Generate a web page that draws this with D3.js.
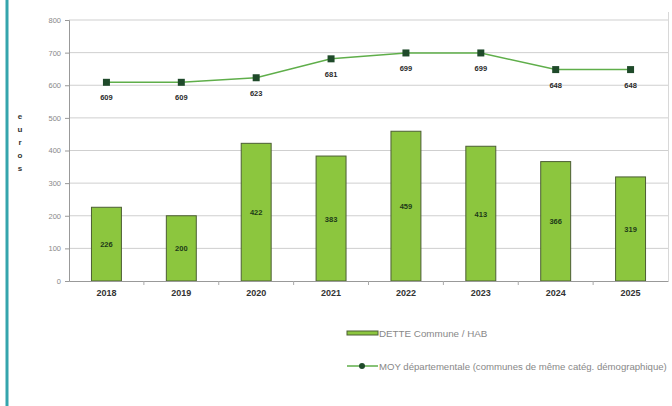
<!DOCTYPE html>
<html>
<head>
<meta charset="utf-8">
<script src="https://cdn.jsdelivr.net/npm/d3@7"></script>
<style>
  html, body { margin: 0; padding: 0; background: #fff; }
  svg { display: block; font-family: "Liberation Sans", Arial, sans-serif; }
</style>
</head>
<body>
<div id="chart"></div>
<script>
// chart data
var years = ['2018', '2019', '2020', '2021', '2022', '2023', '2024', '2025'];
var dette = [226, 200, 422, 383, 459, 413, 366, 319];
var moyenne = [609, 609, 623, 681, 699, 699, 648, 648];
var yTicks = [0, 100, 200, 300, 400, 500, 600, 700, 800];
var axisLetters = ['e', 'u', 'r', 'o', 's'];
var legendLabels = ['DETTE Commune / HAB', 'MOY départementale (communes de même catég. démographique)'];

var W = 672, H = 406;
var margin = { left: 69, right: 4, top: 20, bottom: 125 };

var svg = d3.select('#chart').append('svg')
  .attr('width', W).attr('height', H);

svg.append('rect').attr('width', W).attr('height', H).attr('fill', '#fff');

// teal frame line on the left
svg.append('line')
  .attr('x1', 7).attr('x2', 7).attr('y1', 0).attr('y2', H)
  .attr('stroke', '#35a5ad').attr('stroke-width', 3);

var x = d3.scaleBand()
  .domain(years)
  .range([margin.left, W - margin.right])
  .paddingInner(0.6).paddingOuter(0.3);

var y = d3.scaleLinear()
  .domain([0, 800])
  .range([H - margin.bottom, margin.top]);

// gridlines
svg.append('g')
  .selectAll('line')
  .data(yTicks.filter(function(d) { return d > 0; }))
  .enter().append('line')
  .attr('x1', margin.left).attr('x2', W - margin.right)
  .attr('y1', function(d) { return y(d); })
  .attr('y2', function(d) { return y(d); })
  .attr('stroke', '#cfcfcf').attr('stroke-width', 1);

// right border
svg.append('line')
  .attr('x1', W - margin.right + 0.5).attr('x2', W - margin.right + 0.5)
  .attr('y1', margin.top - 8).attr('y2', y(0))
  .attr('stroke', '#d8d8d8');

// y axis
var yAxis = svg.append('g')
  .attr('transform', 'translate(' + margin.left + ',0)')
  .call(d3.axisLeft(y).tickValues(yTicks).tickSize(4).tickPadding(4));
yAxis.select('.domain').attr('stroke', '#999');
yAxis.selectAll('.tick line').attr('stroke', '#999');
yAxis.selectAll('.tick text').attr('fill', '#888').style('font-size', '7.5px');

// bars
svg.append('g')
  .selectAll('rect')
  .data(dette)
  .enter().append('rect')
  .attr('x', function(d, i) { return x(years[i]); })
  .attr('y', function(d) { return y(d); })
  .attr('width', x.bandwidth())
  .attr('height', function(d) { return y(0) - y(d); })
  .attr('fill', '#8cc63e')
  .attr('stroke', '#4c5e34').attr('stroke-width', 1);

// bar labels
svg.append('g')
  .selectAll('text')
  .data(dette)
  .enter().append('text')
  .attr('x', function(d, i) { return x(years[i]) + x.bandwidth() / 2; })
  .attr('y', function(d) { return (y(d) + y(0)) / 2 + 3; })
  .attr('text-anchor', 'middle')
  .attr('fill', '#1d3a18')
  .style('font-size', '7.5px').style('font-weight', 'bold')
  .text(function(d) { return d; });

// x axis
var xAxis = svg.append('g')
  .attr('transform', 'translate(0,' + y(0) + ')')
  .call(d3.axisBottom(x).tickSize(0).tickPadding(9));
xAxis.select('.domain').attr('stroke', '#999');
xAxis.selectAll('.tick text').attr('fill', '#333')
  .style('font-size', '9px').style('font-weight', 'bold');

// small tick marks between categories
svg.append('g')
  .selectAll('line')
  .data(years.slice(1))
  .enter().append('line')
  .attr('x1', function(d) { return x(d) - x.step() * 0.3; })
  .attr('x2', function(d) { return x(d) - x.step() * 0.3; })
  .attr('y1', y(0)).attr('y2', y(0) + 4)
  .attr('stroke', '#aaa');

// line series
var line = d3.line()
  .x(function(d, i) { return x(years[i]) + x.bandwidth() / 2; })
  .y(function(d) { return y(d); });

svg.append('path')
  .datum(moyenne)
  .attr('d', line)
  .attr('fill', 'none')
  .attr('stroke', '#5fae4a').attr('stroke-width', 1.5);

svg.append('g')
  .selectAll('rect')
  .data(moyenne)
  .enter().append('rect')
  .attr('x', function(d, i) { return x(years[i]) + x.bandwidth() / 2 - 3.5; })
  .attr('y', function(d) { return y(d) - 3.5; })
  .attr('width', 7).attr('height', 7)
  .attr('fill', '#1f4a2a');

svg.append('g')
  .selectAll('text')
  .data(moyenne)
  .enter().append('text')
  .attr('x', function(d, i) { return x(years[i]) + x.bandwidth() / 2; })
  .attr('y', function(d) { return y(d) + 18; })
  .attr('text-anchor', 'middle')
  .attr('fill', '#2a2a2a')
  .style('font-size', '7.5px').style('font-weight', 'bold')
  .text(function(d) { return d; });

// vertical axis title "euros"
svg.append('g')
  .selectAll('text')
  .data(axisLetters)
  .enter().append('text')
  .attr('x', 20)
  .attr('y', function(d, i) { return 119 + i * 13; })
  .attr('text-anchor', 'middle')
  .attr('fill', '#333')
  .style('font-size', '8px').style('font-weight', 'bold')
  .text(function(d) { return d; });

// legend
var lg = svg.append('g');
lg.append('rect')
  .attr('x', 347).attr('y', 331).attr('width', 31).attr('height', 4)
  .attr('fill', '#8cc63e').attr('stroke', '#4c5e34');
lg.append('text')
  .attr('x', 379).attr('y', 337)
  .attr('fill', '#888').style('font-size', '9.8px')
  .text(legendLabels[0]);

lg.append('line')
  .attr('x1', 347).attr('x2', 378).attr('y1', 366).attr('y2', 366)
  .attr('stroke', '#5fae4a').attr('stroke-width', 1.5);
lg.append('circle')
  .attr('cx', 362).attr('cy', 366).attr('r', 3)
  .attr('fill', '#1f4a2a');
lg.append('text')
  .attr('x', 379).attr('y', 369.5)
  .attr('fill', '#888').style('font-size', '9.6px')
  .text(legendLabels[1]);
</script>
</body>
</html>
